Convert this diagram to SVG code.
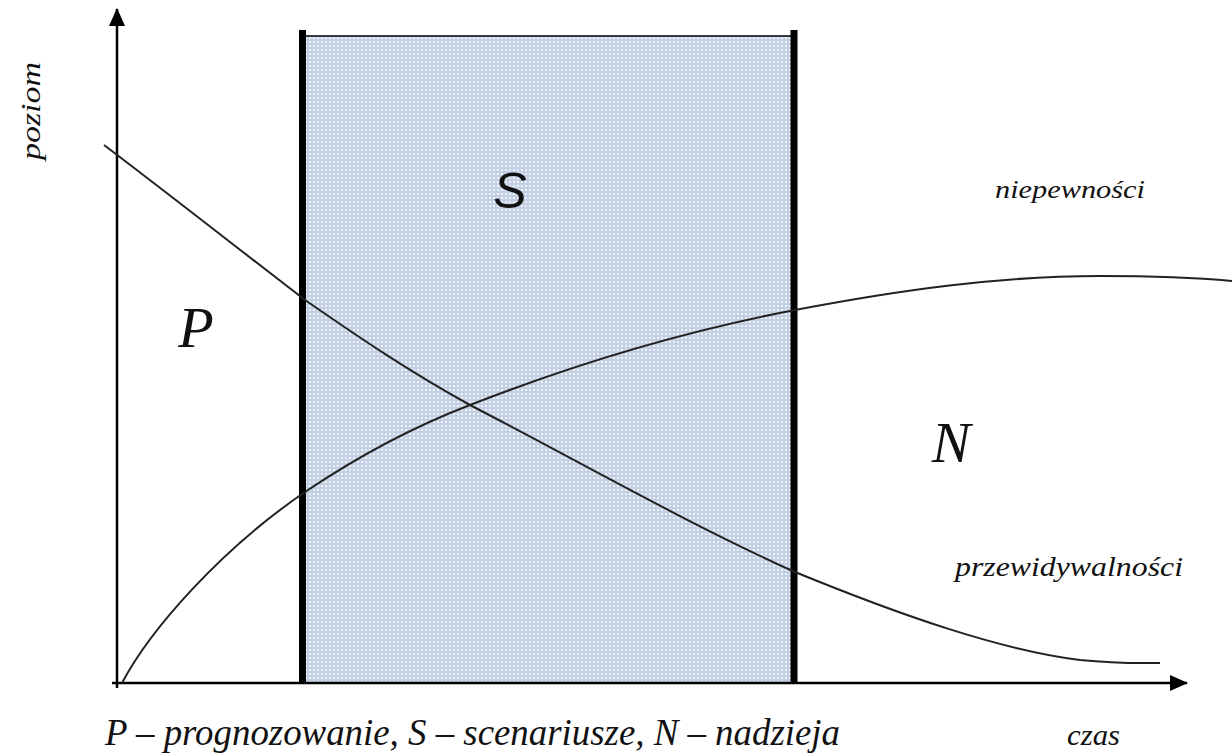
<svg xmlns="http://www.w3.org/2000/svg" width="1232" height="755" viewBox="0 0 1232 755">
<defs>
<pattern id="dots" width="4" height="4" patternUnits="userSpaceOnUse">
<rect width="4" height="4" fill="#c3cfe3"/>
<rect x="1" y="1" width="2" height="2" fill="#eef2f9"/>
</pattern>
<marker id="arr" markerWidth="18" markerHeight="16" refX="17" refY="8" orient="auto" markerUnits="userSpaceOnUse" viewBox="0 0 18 16">
<path d="M0,0 L18,8 L0,16 z" fill="#000"/>
</marker>
<style>
.curve{fill:none;stroke:#222;stroke-width:2}
</style>
</defs>
<rect width="1232" height="755" fill="#fff"/>
<g id="scenario-band">
<rect x="303" y="36" width="491" height="647" fill="url(#dots)" stroke="#000" stroke-width="1.5"/>
<line x1="302.5" y1="30" x2="302.5" y2="684" stroke="#000" stroke-width="7"/>
<line x1="794" y1="30" x2="794" y2="684" stroke="#000" stroke-width="7"/>
</g>
<g id="connectors">
<line x1="117" y1="688" x2="117" y2="9" stroke="#000" stroke-width="2.5" marker-end="url(#arr)"/>
<line x1="112" y1="683" x2="1187" y2="683" stroke="#000" stroke-width="2.5" marker-end="url(#arr)"/>
<path class="curve" d="M104,145 C170,195 240,250 305,300 C360,338 410,372 470,405 C580,462 690,525 795,572 C900,615 1000,650 1080,660 C1120,664 1140,663 1160,663"/>
<path class="curve" d="M122,683 C150,630 220,550 305,492 C360,455 410,428 470,405 C580,362 690,330 795,310 C900,290 1000,276 1100,276 C1160,276 1200,278 1232,281"/>
</g>
<g id="labels" font-family="'Liberation Serif', serif" font-style="italic" fill="#111">
<text font-size="27" transform="translate(40,111) rotate(-90)" text-anchor="middle" textLength="98" lengthAdjust="spacingAndGlyphs">poziom</text>
<text x="510" y="208" font-family="'Liberation Sans', sans-serif" font-size="50" text-anchor="middle">S</text>
<text x="196" y="347" font-size="58" text-anchor="middle">P</text>
<text x="951" y="462" font-size="58" text-anchor="middle">N</text>
<text x="995" y="198" font-size="26" textLength="150" lengthAdjust="spacingAndGlyphs">niepewności</text>
<text x="955" y="576" font-size="28" textLength="228" lengthAdjust="spacingAndGlyphs">przewidywalności</text>
<text x="1067" y="745" font-size="30" textLength="53" lengthAdjust="spacingAndGlyphs">czas</text>
<text x="105" y="745" font-size="38" textLength="735" lengthAdjust="spacingAndGlyphs">P – prognozowanie, S – scenariusze, N – nadzieja</text>
</g>
</svg>
